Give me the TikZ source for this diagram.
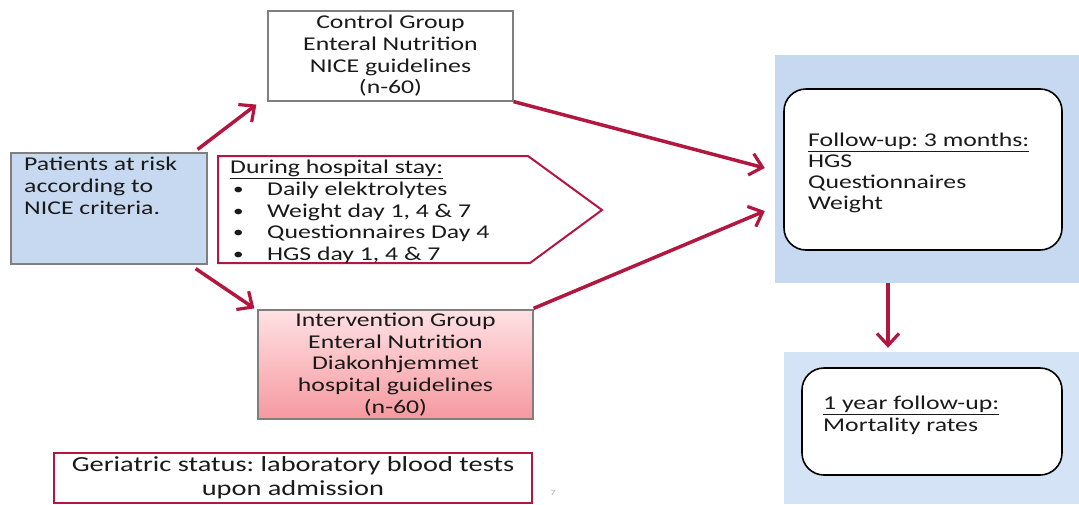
\documentclass[tikz,border=0pt]{standalone}
\usepackage{fontspec}
\setmainfont{Carlito}[FakeStretch=1.32]
\usetikzlibrary{arrows.meta,positioning}
\definecolor{crimson}{HTML}{B2173F}
\definecolor{paleblue}{HTML}{C6D9F1}
\definecolor{lightblue}{HTML}{D5E3F6}
\definecolor{framegray}{HTML}{7F7F7F}
\definecolor{pinktop}{HTML}{FFE1E4}
\definecolor{pinkbot}{HTML}{F5999F}
\definecolor{inktext}{HTML}{1A1A1A}
\newcommand{\staybullet}{\makebox[37pt][l]{\hspace{3pt}\raisebox{1pt}{\fontsize{16}{16}\selectfont\textbullet}}}

\begin{document}
\frenchspacing
\begin{tikzpicture}[x=1pt, y=-1pt, font=\fontsize{19.5}{21.7}\selectfont, text=inktext,
    groupbox/.style = {draw=framegray, line width=1.2pt, align=center, inner sep=0pt},
    panel/.style = {fill=#1, draw=none, inner sep=0pt},
    roundbox/.style = {draw=black, line width=1.6pt, fill=white, rounded corners=22pt, inner sep=0pt},
    flow/.style = {draw=crimson, line width=3.5pt, -{Straight Barb[length=12pt, width=22pt, line width=3.2pt]}}]
    \useasboundingbox (0,0) rectangle (1079,504);
    % groups
    \node[groupbox, fill=white, minimum width=245, minimum height=90] (ctrl) at (390.5,56) {Control Group\\Enteral Nutrition\\NICE guidelines\\(n-60)};
    \node[groupbox, top color=pinktop, bottom color=pinkbot, minimum width=275, minimum height=109] (intv) at (395.5,364.5) {Intervention Group\\Enteral Nutrition\\Diakonhjemmet\\hospital guidelines\\(n-60)};
    \node[groupbox, fill=paleblue, minimum width=196, minimum height=111] (pat) at (109,208.5) {};
    \node[anchor=north west, inner sep=0pt, align=left] (pattext) at (24,157) {Patients at risk\\according to\\NICE criteria.};
    % hospital stay
    \draw[crimson, line width=2pt, fill=white] (218,156) -- (528,156) -- (602,210) -- (530,263) -- (218,263) -- cycle;
    \node[anchor=north west, inner sep=0pt, align=left, font=\fontsize{19.5}{21.75}\selectfont] (stay) at (230,160)
        {\underline{During hospital stay:}\\
         \staybullet Daily elektrolytes\\
         \staybullet Weight day 1, 4 \& 7\\
         \staybullet Questionnaires Day 4\\
         \staybullet HGS day 1, 4 \& 7};
    % follow-up
    \node[panel=paleblue, minimum width=304, minimum height=228] (fu) at (927,169) {};
    \node[roundbox, minimum width=278, minimum height=161] (fuin) at (923,169.5) {};
    \node[anchor=north west, inner sep=0pt, align=left, font=\fontsize{19.5}{21}\selectfont] (futext) at (808,133)
        {\underline{Follow-up: 3 months:}\\HGS\\Questionnaires\\Weight};
    \node[panel=lightblue, minimum width=295, minimum height=152] (yr) at (931.5,428) {};
    \node[roundbox, minimum width=260, minimum height=107] (yrin) at (932,421.5) {};
    \node[anchor=north west, inner sep=0pt, align=left] (yrtext) at (823,396) {\underline{1 year follow-up:}\\Mortality rates};
    % bottom note
    \node[draw=crimson, line width=1.5pt, fill=white, minimum width=478, minimum height=50, align=center, inner sep=0pt,
        font=\fontsize{21.5}{24}\selectfont] (geri) at (293,478) {Geriatric status: laboratory blood tests\\upon admission};
    \node[text=gray!60, font=\fontsize{8}{9}\selectfont] (pg) at (553,493) {7};
    % arrows
    \draw[flow] ([xshift=-10pt, yshift=3pt]pat.north east) -- ([xshift=-11pt, yshift=-3pt]ctrl.south west);
    \draw[flow] ([xshift=-12pt, yshift=-4pt]pat.south east) -- ([xshift=-3pt, yshift=1pt]intv.north west);
    \draw[flow] (ctrl.south east) -- ([xshift=-10pt, yshift=1pt]fu.west);
    \draw[flow] ([yshift=1pt]intv.north east) -- ([xshift=-10pt, yshift=-42pt]fu.west);
    \draw[flow] ([xshift=-39pt]fu.south) -- ([xshift=-43.5pt, yshift=4pt]yr.north);
\end{tikzpicture}
\end{document}
